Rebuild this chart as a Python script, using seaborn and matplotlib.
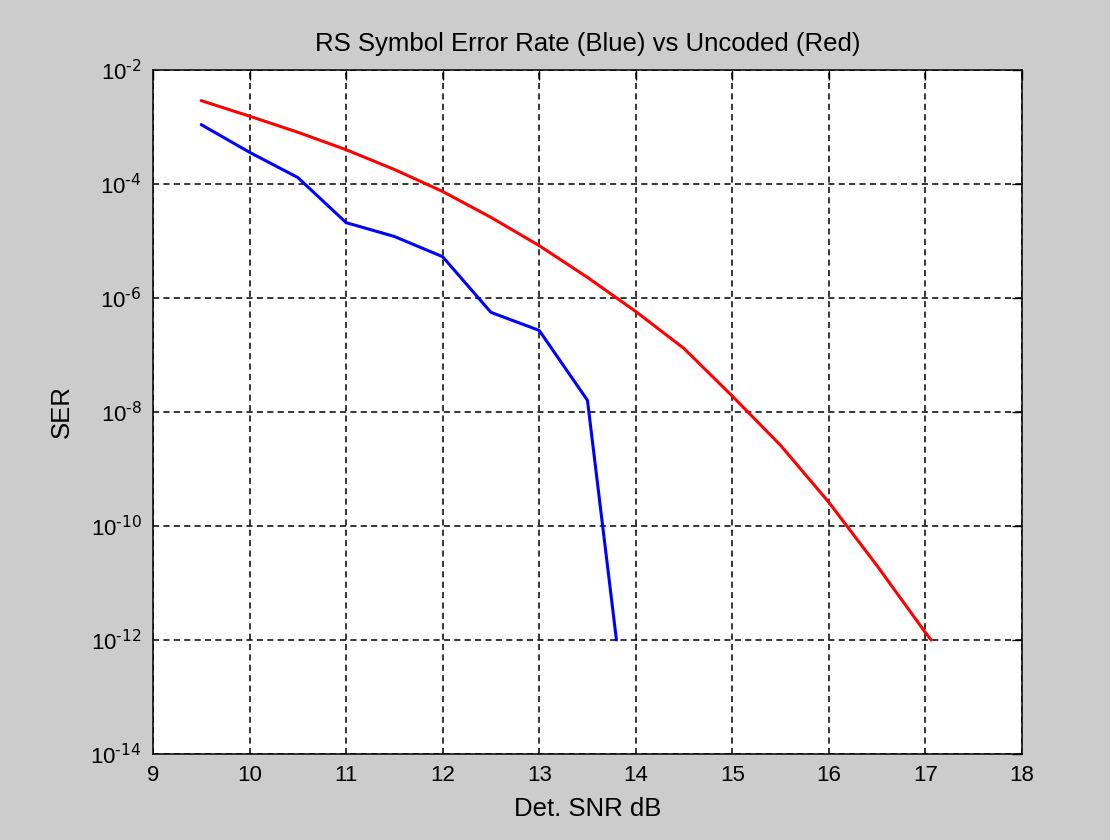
import math
import matplotlib
matplotlib.use("Agg")
import matplotlib.pyplot as plt
import matplotlib.ticker as mticker
import pandas as pd
import seaborn as sns

# RS coded symbol error rate (blue)
rs_snr = [9.5, 10.0, 10.5, 11.0, 11.5, 12.0, 12.5, 13.0, 13.5, 13.8]
rs_ser = [1.1e-3, 3.6e-4, 1.3e-4, 2.1e-5, 1.2e-5, 5.3e-6, 5.6e-7, 2.7e-7, 1.6e-8, 1e-12]

# uncoded symbol error rate (red)
unc_snr = [9.5, 10.0, 10.5, 11.0, 11.5, 12.0, 12.5, 13.0, 13.5, 14.0,
           14.5, 15.0, 15.5, 16.0, 16.5, 17.0, 17.06]
unc_ser = [2.9e-3, 1.55e-3, 8.1e-4, 4.0e-4, 1.8e-4, 7.4e-5, 2.6e-5, 8.3e-6,
           2.3e-6, 5.8e-7, 1.3e-7, 1.9e-8, 2.6e-9, 2.6e-10, 2.0e-11, 1.35e-12, 1e-12]

y_ticks = [1e-14, 1e-12, 1e-10, 1e-8, 1e-6, 1e-4, 1e-2]
x_ticks = [9, 10, 11, 12, 13, 14, 15, 16, 17, 18]

rs = pd.DataFrame({"snr": rs_snr, "ser": rs_ser})
unc = pd.DataFrame({"snr": unc_snr, "ser": unc_ser})


def pow10_label(v, pos):
    # matlab style: plain hyphen in the exponent
    e = int(round(math.log10(v)))
    return r"$10^{\text{%d}}$" % e if e >= 0 else r"$10^{\text{-%d}}$" % -e


sns.set_style("white")
plt.rcParams["font.family"] = ["Liberation Sans", "DejaVu Sans"]
plt.rcParams["mathtext.default"] = "regular"
plt.rcParams["text.color"] = "black"
plt.rcParams["axes.labelcolor"] = "black"

fig = plt.figure(figsize=(11.1, 8.4), dpi=100, facecolor="#cccccc")
ax = fig.add_axes([0.1378, 0.1024, 0.7829, 0.8143])
ax.set_facecolor("white")

sns.lineplot(data=unc, x="snr", y="ser", color="#ff0000", linewidth=2.2,
             estimator=None, sort=False, ax=ax)
sns.lineplot(data=rs, x="snr", y="ser", color="#0000ff", linewidth=2.2,
             estimator=None, sort=False, ax=ax)

ax.set_yscale("log")
ax.set_xlim(9, 18)
ax.set_ylim(1e-14, 1e-2)
ax.set_xticks(x_ticks)
ax.set_yticks(y_ticks)
ax.yaxis.set_minor_locator(mticker.NullLocator())
ax.yaxis.set_major_formatter(mticker.FuncFormatter(pow10_label))

ax.grid(True, color="black", linestyle=(0, (4, 2.8)), linewidth=1.1)
ax.tick_params(direction="in", top=True, right=True, length=7, width=1,
               labelsize=16, colors="black", pad=8)
for s in ax.spines.values():
    s.set_visible(True)
    s.set_color("black")
    s.set_linewidth(1.1)

ax.set_title("RS Symbol Error Rate (Blue) vs Uncoded (Red)", fontsize=18.5, pad=14)
ax.set_xlabel("Det. SNR dB", fontsize=18.5, labelpad=8)
ax.set_ylabel("SER", fontsize=18.5, labelpad=12)

fig.savefig("out.png", dpi=100, facecolor=fig.get_facecolor())
